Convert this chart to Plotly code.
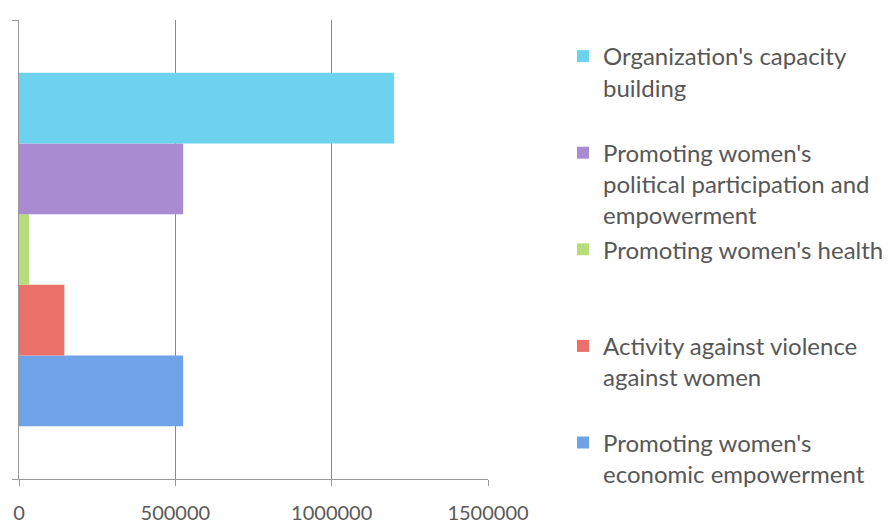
import plotly.graph_objects as go

series = [
    "Promoting women's<br>economic empowerment",
    "Activity against violence<br>against women",
    "Promoting women's health",
    "Promoting women's<br>political participation and<br>empowerment",
    "Organization's capacity<br>building",
]
values = [525000, 145000, 32000, 525000, 1200000]
colors = ["#6fa2e6", "#ea7069", "#b6dc7c", "#a98bd2", "#6dd2ee"]
line_counts = [2, 2, 1, 3, 2]
x_ticks = [0, 500000, 1000000, 1500000]

fig = go.Figure()
for name, v, c, n in zip(series, values, colors, line_counts):
    label = name + "<br> " * (3 - n)
    fig.add_trace(go.Bar(
        y=[0], x=[v], orientation="h", name=label, legendgroup=name,
        marker=dict(color=c, line=dict(width=0)),
    ))

fig.update_layout(
    width=891, height=522,
    margin=dict(l=11, r=411, t=12, b=51),
    barmode="group", bargap=0.23, bargroupgap=0,
    plot_bgcolor="white", paper_bgcolor="white",
    font=dict(family="Lato", size=20, color="#595959"),
    showlegend=True,
    legend=dict(
        traceorder="reversed", valign="top",
        xref="container", yref="container",
        x=555/891, y=1 - 26/522, xanchor="left", yanchor="top",
        tracegroupgap=4, itemwidth=30, maxheight=1,
        font=dict(family="Lato", size=24, color="#575757"),
        bgcolor="rgba(0,0,0,0)",
    ),
    xaxis=dict(
        range=[0, 1500000], tickvals=x_ticks, ticktext=[str(t) for t in x_ticks],
        showgrid=True, gridcolor="#8a8a8a", gridwidth=1,
        showline=True, linecolor="#9a9a9a", linewidth=1,
        ticks="outside", ticklen=6, tickcolor="#9a9a9a",
        zeroline=False, ticklabelstandoff=10, automargin=False,
        tickfont=dict(size=20),
    ),
    yaxis=dict(
        range=[-0.5, 0.5], tickvals=[-0.5, 0.5], showticklabels=False,
        showgrid=False, zeroline=False, automargin=False,
        showline=True, linecolor="#9a9a9a", linewidth=1,
        ticks="outside", ticklen=6, tickcolor="#9a9a9a",
    ),
)
fig.write_html("out.html")
